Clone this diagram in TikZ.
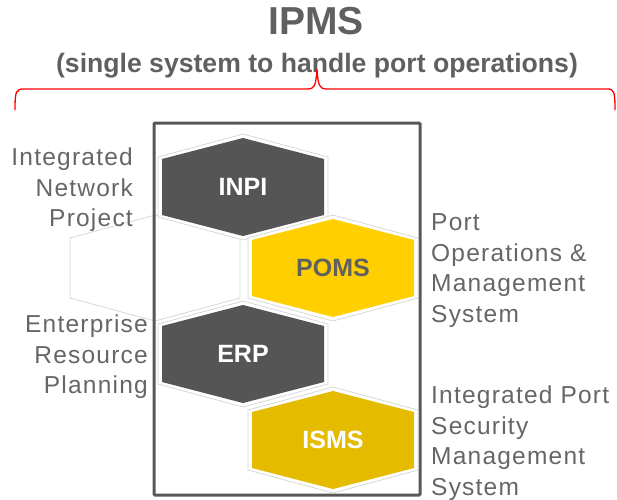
\documentclass[tikz,border=0pt]{standalone}
\usepackage{fontspec}
\setmainfont{Liberation Sans}
\newfontfamily\labelfont[LetterSpace=5]{Liberation Sans}
\usepackage{xcolor}
\usepackage{tikz}
\usetikzlibrary{positioning}

\definecolor{cellgrey}{HTML}{555555}
\definecolor{pomsgold}{HTML}{FFCF00}
\definecolor{ismsgold}{HTML}{E5BB00}
\definecolor{inkgrey}{HTML}{606060}
\definecolor{labelgrey}{HTML}{666666}
\definecolor{framegrey}{HTML}{575757}

\begin{document}
\begin{tikzpicture}[x=1pt,y=-1pt,
  glow/.style={draw=black!17,fill=white,line width=0.7pt},
  cell/.style={font=\bfseries\fontsize{25}{25}\selectfont,inner sep=0pt},
  side/.style={font=\labelfont\fontsize{24.5}{30.5}\selectfont,text=labelgrey,inner sep=0pt}]
\useasboundingbox (0,0) rectangle (617,499);
% heading
\node[font=\bfseries\fontsize{39}{39}\selectfont,text=inkgrey,inner sep=0pt] (title) at (316,21) {IPMS};
\node[font=\bfseries\fontsize{26.6}{26.6}\selectfont,text=inkgrey,inner sep=0pt] (subtitle) at (317,66) {(single system to handle port operations)};
\draw[red,line width=1.3pt](15,110)..controls(15,91)and(16,89)..(24,89)--(308,89)
  ..controls(314,89)and(316,86)..(317,69)..controls(318,86)and(320,89)..(326,89)
  --(607,89)..controls(614,89)and(615,91)..(615,110);
% empty cell behind the frame
\draw[glow](155,268)++(-85,-30)--++(85,-23)--++(85,23)--++(0,60)--++(-85,23)--++(-85,-23)--cycle;
% frame
\draw[framegrey,line width=3pt,rounded corners=1pt](154,123)rectangle(420,495);
% cells
\foreach \cx/\cy in {243/187,333/268,243/354,333/440}
  \draw[glow](\cx,\cy)++(-85,-30)--++(85,-23)--++(85,23)--++(0,60)--++(-85,23)--++(-85,-23)--cycle;
\foreach \cx/\cy/\col in {243/187/cellgrey,333/268/pomsgold,243/354/cellgrey,333/440/ismsgold}
  \fill[\col](\cx,\cy)++(-81,-28)--++(81,-21)--++(81,21)--++(0,56)--++(-81,21)--++(-81,-21)--cycle;
\node[cell,text=white] (inpi) at (243,187) {INPI};
\node[cell,text=inkgrey] (poms) at (333,268) {POMS};
\node[cell,text=white] (erp) at (243,354) {ERP};
\node[cell,text=white] (isms) at (333,440) {ISMS};
% labels
\node[side,align=right,anchor=east] (inpitext) at (133,190) {Integrated\\Network\\Project};
\node[side,align=right,anchor=east] (erptext) at (148,357) {Enterprise\\Resource\\Planning};
\node[side,align=left,anchor=west] (pomstext) at (431,270.5) {Port\\Operations \&\\Management\\System};
\node[side,align=left,anchor=west] (ismstext) at (431,443) {Integrated Port\\Security\\Management\\System};
\end{tikzpicture}
\end{document}
